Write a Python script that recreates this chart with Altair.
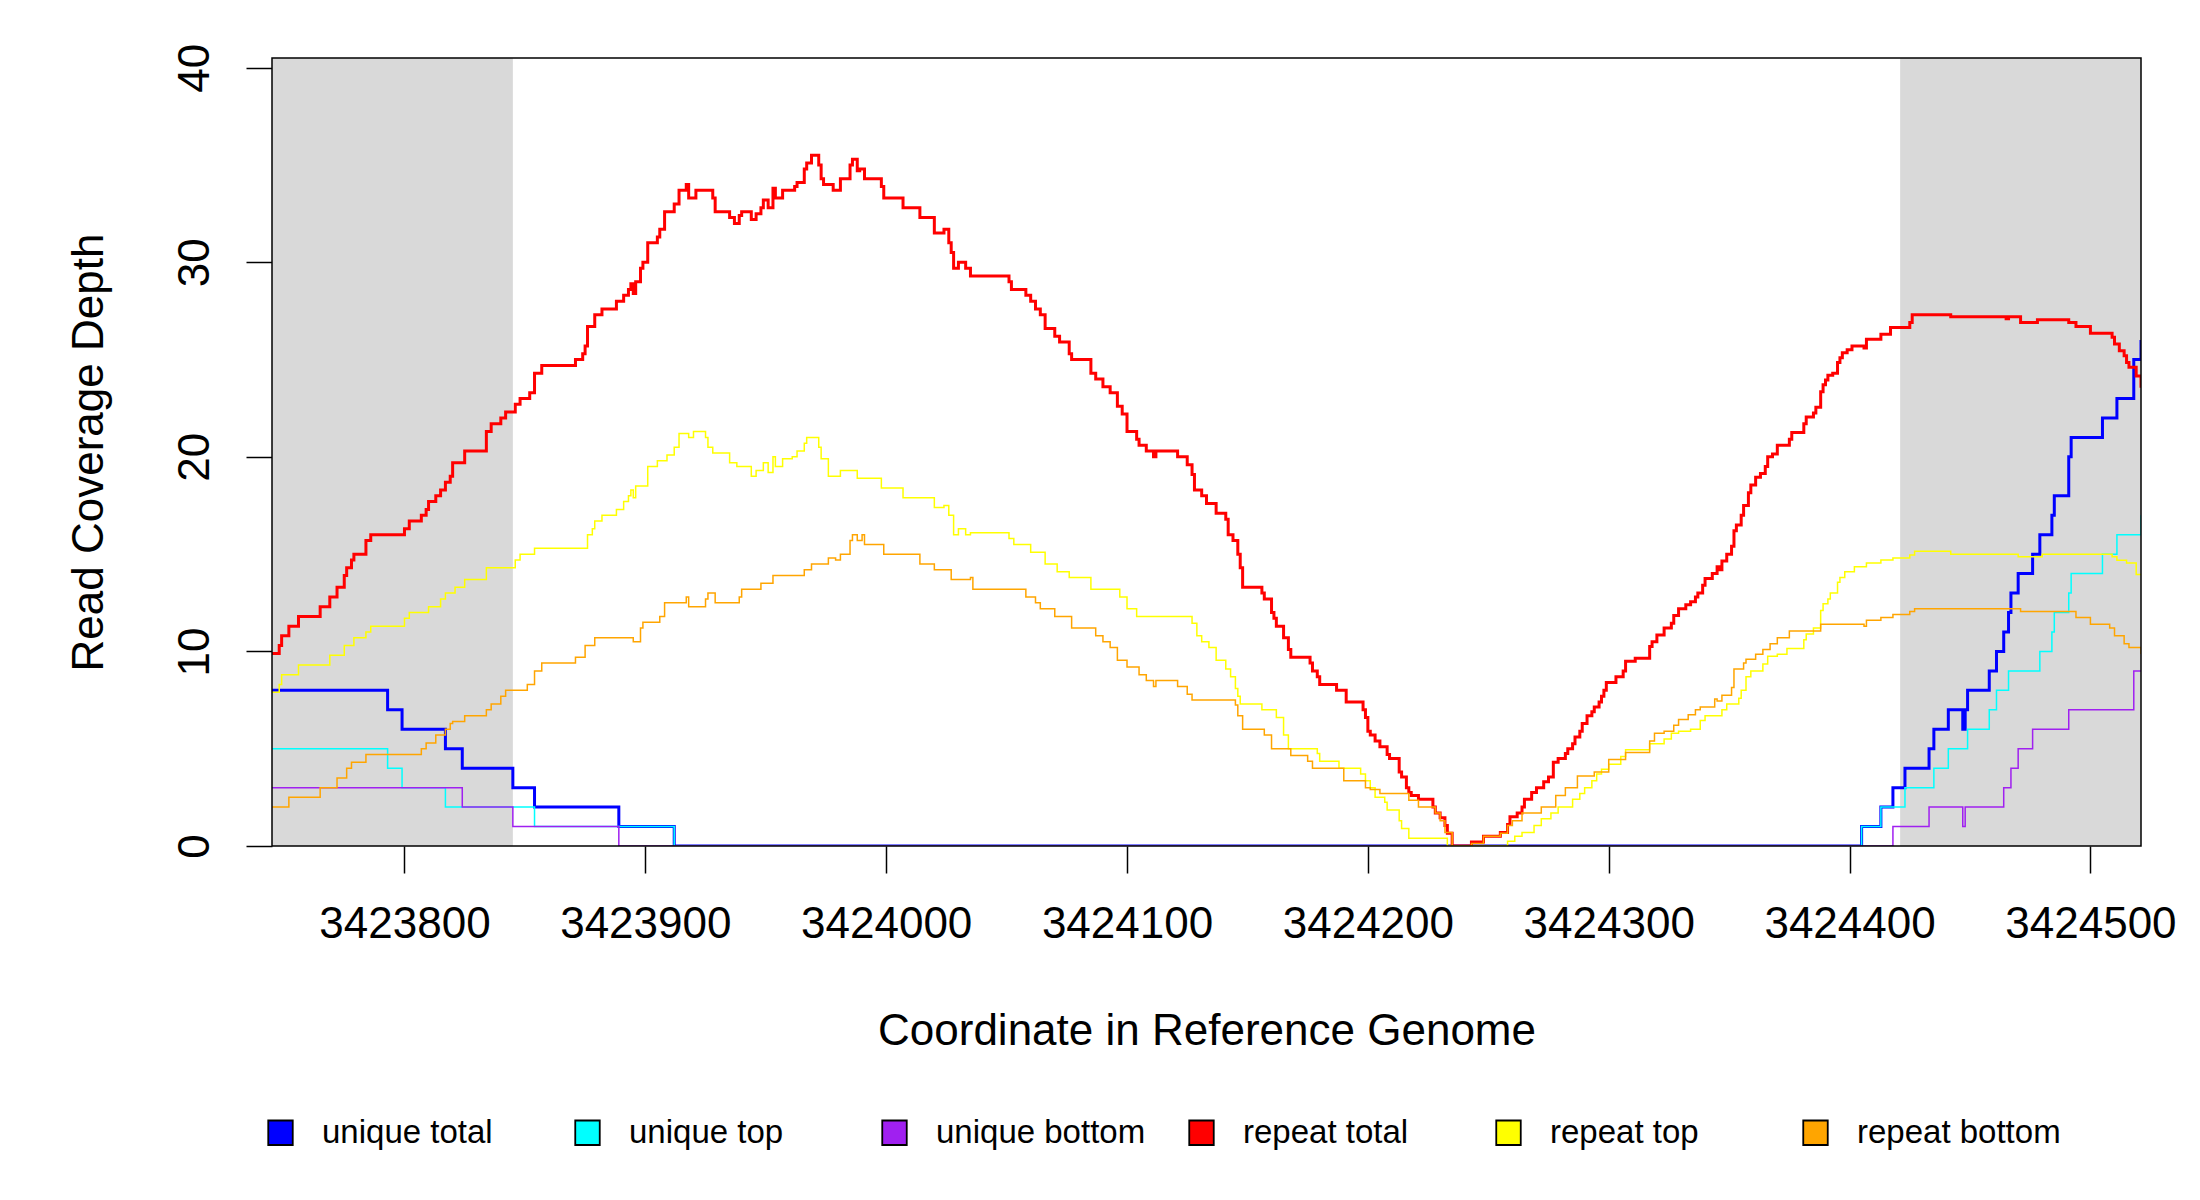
import altair as alt
import pandas as pd

START = 3423745
END = 3424521
YMAX = 40.5
FLANK_START = [3423745, 3424421]
FLANK_END = [3423845, 3424521]
X_TICKS = [3423800, 3423900, 3424000, 3424100, 3424200, 3424300, 3424400, 3424500]
Y_TICKS = [0, 10, 20, 30, 40]
SERIES = ["unique total", "unique top", "unique bottom", "repeat total", "repeat top", "repeat bottom"]
COLORS = ["#0000ff", "#00ffff", "#a020f0", "#ff0000", "#ffff00", "#ffa500"]
WIDTHS = [3, 1.5, 1.5, 3, 1.5, 1.5]

# (offset from START in bp, depth) step-after breakpoints
UNIQUE_TOTAL = [(0, 8), (48, 7), (54, 6), (72, 5), (79, 4), (100, 3), (109, 2), (144, 1), (167, 0),
                (660, 1), (668, 2), (673, 3), (678, 4), (688, 5), (690, 6), (696, 7), (702, 6), (703, 7),
                (704, 8), (713, 9), (716, 10), (719, 11), (721, 12), (722, 13), (725, 14), (731, 15),
                (734, 16), (739, 17), (740, 18), (746, 20), (747, 21), (760, 22), (766, 23), (773, 25),
                (776, 26)]
UNIQUE_TOP = [(0, 5), (48, 4), (54, 3), (72, 2), (109, 1), (167, 0), (660, 1), (668, 2), (678, 3),
              (690, 4), (696, 5), (704, 6), (713, 7), (716, 8), (721, 9), (734, 10), (739, 11),
              (740, 12), (746, 13), (747, 14), (760, 15), (766, 16), (776, 17)]
UNIQUE_BOTTOM = [(0, 3), (79, 2), (100, 1), (144, 0), (673, 1), (688, 2), (702, 1), (703, 2), (719, 3),
                 (722, 4), (725, 5), (731, 6), (746, 7), (773, 9), (776, 9)]
REPEAT_TOTAL = [(0, 9.9), (3, 10.3), (4, 10.8), (7, 11.3), (11, 11.8), (20, 12.3), (24, 12.8), (27, 13.3),
                (30, 13.9), (31, 14.3), (33, 14.7), (34, 15.0), (39, 15.7), (41, 16.0), (55, 16.3),
                (57, 16.7), (62, 17.0), (64, 17.3), (65, 17.7), (68, 18.0), (70, 18.3), (72, 18.7),
                (74, 19.0), (75, 19.7), (80, 20.3), (89, 21.3), (91, 21.7), (95, 22.0), (97, 22.3),
                (101, 22.7), (103, 23.0), (107, 23.3), (109, 24.3), (112, 24.7), (126, 25.0), (129, 25.3),
                (130, 25.7), (131, 26.7), (134, 27.3), (137, 27.6), (143, 28.0), (146, 28.3), (148, 28.6),
                (149, 28.9), (150, 28.4), (151, 29.0), (153, 29.7), (154, 30.0), (156, 31.0), (160, 31.3),
                (161, 31.7), (163, 32.6), (167, 33.0), (169, 33.7), (172, 34.0), (173, 33.3), (176, 33.7),
                (183, 33.3), (184, 32.6), (190, 32.3), (192, 32.0), (194, 32.4), (195, 32.6), (199, 32.2),
                (201, 32.5), (203, 32.8), (204, 33.2), (206, 32.8), (208, 33.8), (209, 33.3), (212, 33.7),
                (217, 33.9), (218, 34.1), (221, 34.8), (222, 35.1), (224, 35.5), (227, 35.0), (228, 34.3),
                (229, 34.0), (233, 33.7), (236, 34.3), (240, 35.0), (241, 35.3), (243, 34.7), (244, 34.8),
                (246, 34.3), (253, 33.9), (254, 33.3), (262, 32.8), (269, 32.3), (275, 31.5), (279, 31.7),
                (281, 31.0), (282, 30.5), (283, 29.7), (285, 30.0), (288, 29.7), (290, 29.3), (306, 29.0),
                (307, 28.6), (313, 28.3), (315, 28.0), (317, 27.6), (319, 27.3), (321, 26.6), (325, 26.2),
                (327, 25.9), (331, 25.3), (332, 25.0), (340, 24.3), (342, 24.0), (345, 23.6), (348, 23.3),
                (351, 22.6), (353, 22.2), (355, 21.3), (359, 20.9), (360, 20.6), (363, 20.3), (366, 20.0),
                (367, 20.3), (376, 20.0), (380, 19.6), (382, 19.1), (383, 18.3), (386, 18.0), (388, 17.6),
                (392, 17.1), (396, 16.8), (397, 16.0), (399, 15.7), (401, 15.0), (402, 14.3), (403, 13.3),
                (411, 13.0), (412, 12.7), (415, 12.0), (416, 11.7), (417, 11.3), (420, 10.7), (422, 10.1),
                (423, 9.7), (431, 9.4), (432, 9.0), (434, 8.7), (435, 8.3), (442, 8.0), (446, 7.4),
                (453, 7.0), (454, 6.6), (455, 5.9), (456, 5.7), (458, 5.4), (460, 5.1), (463, 4.7),
                (464, 4.5), (468, 3.8), (469, 3.55), (471, 3.0), (472, 2.75), (473, 2.6), (476, 2.4),
                (482, 2.0), (483, 1.7), (485, 1.45), (487, 1.05), (488, 0.66), (490, 0), (498, 0.2),
                (503, 0.5), (510, 0.7), (513, 1.1), (514, 1.5), (517, 1.7), (519, 2.0), (520, 2.4),
                (523, 2.75), (525, 3.0), (528, 3.3), (530, 3.55), (532, 4.3), (534, 4.5), (537, 4.75),
                (538, 5.0), (540, 5.25), (541, 5.6), (543, 5.9), (544, 6.3), (546, 6.7), (548, 6.9),
                (549, 7.15), (551, 7.4), (552, 7.7), (553, 8.0), (554, 8.4), (558, 8.7), (561, 9.0),
                (562, 9.5), (566, 9.65), (572, 10.25), (573, 10.5), (575, 10.85), (578, 11.2), (581, 11.45),
                (582, 11.85), (584, 12.2), (587, 12.4), (589, 12.55), (591, 12.8), (592, 13.0), (594, 13.4),
                (595, 13.75), (598, 14.0), (600, 14.35), (601, 14.2), (602, 14.65), (604, 15.0), (606, 15.4),
                (607, 16.2), (608, 16.5), (610, 17.0), (611, 17.5), (613, 18.15), (614, 18.55), (616, 18.95),
                (618, 19.15), (620, 19.5), (621, 20.0), (623, 20.15), (625, 20.6), (630, 20.9), (631, 21.25),
                (636, 21.7), (637, 22.05), (640, 22.25), (641, 22.55), (643, 23.35), (644, 23.7), (645, 23.95),
                (646, 24.2), (648, 24.3), (650, 24.85), (651, 25.1), (652, 25.35), (654, 25.5), (656, 25.7),
                (661, 25.6), (662, 26.05), (668, 26.3), (672, 26.65), (680, 26.9), (681, 27.3), (697, 27.2),
                (720, 27.1), (721, 27.2), (726, 26.9), (733, 27.05), (746, 26.9), (749, 26.7), (755, 26.35),
                (764, 26.15), (765, 25.8), (767, 25.45), (769, 25.2), (770, 24.85), (771, 24.6), (774, 24.15),
                (776, 23.55)]
REPEAT_TOP = [(0, 7.9), (3, 8.3), (4, 8.8), (11, 9.3), (24, 9.8), (30, 10.3), (34, 10.7), (39, 11.0),
              (41, 11.3), (55, 11.7), (57, 12.0), (65, 12.3), (70, 12.7), (72, 13.0), (76, 13.3), (80, 13.7),
              (89, 14.3), (101, 14.7), (103, 15.0), (109, 15.3), (131, 16.0), (133, 16.3), (134, 16.7),
              (137, 17.0), (143, 17.3), (146, 17.7), (148, 18.0), (149, 18.3), (150, 17.9), (151, 18.5),
              (156, 19.5), (160, 19.8), (164, 20.1), (167, 20.5), (169, 21.2), (173, 21.0), (175, 21.3),
              (180, 21.0), (181, 20.5), (183, 20.2), (190, 19.7), (193, 19.5), (199, 19.0), (201, 19.3),
              (204, 19.7), (206, 19.2), (208, 20.0), (209, 19.5), (212, 19.9), (216, 20.0), (218, 20.3),
              (221, 20.7), (222, 21.0), (227, 20.5), (228, 19.9), (231, 19.0), (236, 19.3), (243, 18.9),
              (253, 18.4), (262, 17.9), (275, 17.4), (279, 17.5), (281, 17.0), (283, 16.0), (285, 16.3),
              (288, 16.0), (290, 16.1), (306, 15.8), (308, 15.5), (315, 15.1), (321, 14.5), (326, 14.1),
              (331, 13.8), (340, 13.2), (352, 12.8), (355, 12.2), (359, 11.8), (382, 11.45), (384, 10.8),
              (386, 10.5), (389, 10.2), (392, 9.55), (396, 9.1), (398, 8.7), (400, 8.1), (401, 7.7),
              (402, 7.3), (411, 7.0), (417, 6.6), (420, 5.7), (422, 5.0), (434, 4.75), (435, 4.35),
              (443, 4.0), (452, 3.7), (454, 3.35), (456, 3.0), (458, 2.5), (462, 2.25), (463, 1.85),
              (468, 1.3), (469, 0.9), (472, 0.4), (488, 0), (513, 0.25), (516, 0.5), (519, 0.7),
              (524, 1.05), (527, 1.4), (531, 1.7), (534, 2.0), (540, 2.4), (543, 2.7), (545, 3.0),
              (548, 3.35), (550, 3.7), (552, 3.95), (555, 4.2), (560, 4.6), (562, 4.95), (572, 5.25),
              (578, 5.5), (581, 5.8), (584, 5.9), (589, 6.0), (593, 6.45), (595, 6.7), (602, 7.0),
              (604, 7.3), (609, 7.6), (610, 8.0), (612, 8.7), (614, 9.0), (619, 9.35), (621, 9.75),
              (625, 9.85), (629, 10.15), (636, 10.6), (637, 10.9), (640, 11.2), (643, 12.1), (644, 12.45),
              (646, 12.7), (647, 13.0), (650, 13.55), (651, 13.8), (653, 14.1), (657, 14.35), (662, 14.55),
              (668, 14.7), (673, 14.8), (680, 14.95), (682, 15.15), (697, 15.0), (725, 14.87), (735, 15.0),
              (764, 14.87), (766, 14.68), (770, 14.55), (774, 13.95), (776, 13.95)]
REPEAT_BOTTOM = [(0, 2.0), (7, 2.5), (20, 3.0), (27, 3.5), (31, 4.0), (33, 4.3), (39, 4.7), (62, 5.0),
                 (64, 5.3), (68, 5.7), (72, 6.0), (74, 6.3), (75, 6.4), (80, 6.7), (89, 7.0), (91, 7.3),
                 (95, 7.7), (97, 8.0), (106, 8.3), (109, 9.0), (112, 9.4), (126, 9.7), (130, 10.3),
                 (134, 10.7), (150, 10.5), (153, 11.2), (154, 11.5), (161, 11.8), (163, 12.5), (172, 12.8),
                 (173, 12.3), (180, 12.7), (181, 13.0), (184, 12.5), (194, 12.8), (195, 13.2), (203, 13.5),
                 (208, 13.9), (221, 14.2), (224, 14.5), (231, 14.8), (234, 14.7), (236, 15.0), (240, 15.7),
                 (241, 16.0), (243, 15.7), (245, 16.0), (246, 15.5), (254, 15.0), (269, 14.5), (275, 14.2),
                 (282, 13.7), (290, 13.8), (291, 13.2), (313, 12.8), (317, 12.5), (319, 12.2), (325, 11.8),
                 (332, 11.2), (342, 10.8), (345, 10.5), (348, 10.2), (351, 9.55), (355, 9.2), (360, 8.8),
                 (363, 8.5), (366, 8.2), (367, 8.5), (376, 8.2), (380, 7.8), (382, 7.5), (400, 7.25),
                 (401, 6.7), (403, 6.0), (412, 5.7), (415, 5.0), (423, 4.65), (430, 4.35), (432, 4.0),
                 (445, 3.35), (454, 3.0), (456, 2.9), (460, 2.7), (472, 2.35), (476, 2.0), (483, 1.7),
                 (485, 1.3), (487, 0.7), (490, 0), (498, 0.13), (503, 0.5), (510, 0.66), (513, 1.05),
                 (515, 1.3), (519, 1.7), (527, 2.0), (533, 2.6), (537, 3.0), (542, 3.6), (549, 3.8),
                 (555, 4.45), (562, 4.8), (572, 5.4), (574, 5.8), (578, 5.9), (582, 6.2), (584, 6.5),
                 (588, 6.75), (591, 7.0), (593, 7.15), (599, 7.55), (600, 7.45), (602, 7.75), (606, 8.15),
                 (607, 9.1), (611, 9.4), (612, 9.6), (616, 9.85), (619, 10.1), (622, 10.4), (625, 10.7),
                 (630, 11.05), (643, 11.4), (661, 11.3), (662, 11.6), (668, 11.75), (673, 11.9), (680, 12.05),
                 (682, 12.2), (726, 12.05), (749, 11.75), (755, 11.4), (763, 11.2), (765, 10.8), (769, 10.4),
                 (771, 10.2), (776, 9.87)]

SERIES_DATA = [UNIQUE_TOTAL, UNIQUE_TOP, UNIQUE_BOTTOM, REPEAT_TOTAL, REPEAT_TOP, REPEAT_BOTTOM]

rows = []
for name, pairs in zip(SERIES, SERIES_DATA):
    for off, val in pairs:
        rows.append({"pos": START + off, "depth": val, "series": name})
df = pd.DataFrame(rows)

flank_df = pd.DataFrame({"pos": FLANK_START, "pos_end": FLANK_END,
                         "depth": [0, 0], "depth_end": [YMAX, YMAX]})
frame_df = pd.DataFrame({"pos": [START], "pos_end": [END], "depth": [0], "depth_end": [YMAX]})

W, H = 1869, 788
FONT = "Liberation Sans"

x_scale = alt.Scale(domain=[START, END], nice=False, zero=False)
y_scale = alt.Scale(domain=[0, YMAX], nice=False, zero=False)
color_scale = alt.Scale(domain=SERIES, range=COLORS)

X_AXIS = alt.Axis(title="Coordinate in Reference Genome", values=X_TICKS, format="d",
                  tickSize=27, tickWidth=1.5, tickColor="black", domain=False, grid=False,
                  labelFontSize=44, labelFont=FONT, labelColor="black", labelPadding=64,
                  labelBaseline="alphabetic", labelFlush=False, labelOverlap=False,
                  titleFontSize=44, titleFont=FONT, titleFontWeight="normal", titleColor="black",
                  titleX=W / 2, titleY=198, titleAlign="center", titleBaseline="alphabetic")
Y_AXIS = alt.Axis(title="Read Coverage Depth", values=Y_TICKS, format="d",
                  tickSize=26, tickWidth=1.5, tickColor="black", domain=False, grid=False,
                  labelFontSize=44, labelFont=FONT, labelColor="black", labelPadding=38,
                  labelAngle=270, labelAlign="center", labelBaseline="alphabetic",
                  labelFlush=False, labelOverlap=False,
                  titleFontSize=44, titleFont=FONT, titleFontWeight="normal", titleColor="black",
                  titleAngle=270, titleX=-170, titleY=H / 2, titleAlign="center",
                  titleBaseline="alphabetic")

X = alt.X("pos:Q", scale=x_scale, axis=X_AXIS)
Y = alt.Y("depth:Q", scale=y_scale, axis=Y_AXIS)

flanks = alt.Chart(flank_df).mark_rect(color="#d9d9d9").encode(
    x=X, x2="pos_end:Q", y=Y, y2="depth_end:Q")

layers = [flanks]
for name, color, width in zip(SERIES, COLORS, WIDTHS):
    layers.append(
        alt.Chart(df).transform_filter(alt.datum.series == name)
        .mark_line(interpolate="step-after", stroke=color, strokeWidth=width, clip=True)
        .encode(x=X, y=Y)
    )

# legend-only layer: no rows survive the filter, the legend comes from the scale domain
legend_layer = alt.Chart(df).transform_filter(alt.datum.depth < 0).mark_point(
    shape="square", filled=True).encode(
    x=X, y=Y,
    fill=alt.Fill("series:N", scale=color_scale,
                  legend=alt.Legend(orient="none", legendX=-8, legendY=1058, direction="horizontal",
                                    columns=6, gridAlign="all", symbolType="square", symbolSize=600,
                                    symbolStrokeColor="black", symbolStrokeWidth=1.8, symbolOpacity=1,
                                    labelFontSize=33, labelFont=FONT, labelColor="black",
                                    labelOffset=25, columnPadding=39, title=None, padding=0,
                                    labelLimit=400)))
layers.append(legend_layer)

frame = alt.Chart(frame_df).mark_rect(fillOpacity=0, stroke="black", strokeWidth=1.5).encode(
    x=X, x2="pos_end:Q", y=Y, y2="depth_end:Q")
layers.append(frame)

chart = alt.layer(*layers).properties(
    width=W, height=H,
    autosize=alt.AutoSizeParams(type="none"),
    padding={"left": 264, "top": 50, "right": 45, "bottom": 330},
    background="white",
).configure_view(stroke=None)

chart.save("out.html", embed_options={"renderer": "svg", "actions": False})
